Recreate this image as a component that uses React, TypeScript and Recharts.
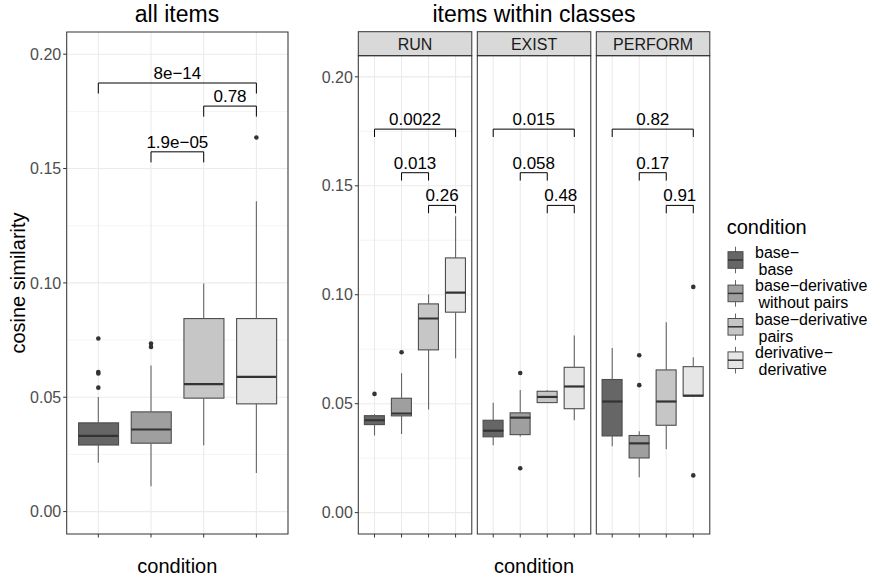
import {
  ComposedChart,
  Bar,
  Scatter,
  ErrorBar,
  XAxis,
  YAxis,
  CartesianGrid,
  ReferenceLine,
} from 'recharts';

const FONT = '"Liberation Sans", Arial, Helvetica, sans-serif';

const conditions = ['base−base', 'base−derivative without pairs', 'base−derivative pairs', 'derivative−derivative'];
const legendLines = [
  ['base−', 'base'],
  ['base−derivative', 'without pairs'],
  ['base−derivative', 'pairs'],
  ['derivative−', 'derivative'],
];
const fills = ['#666666', '#9F9F9F', '#C6C6C6', '#E6E6E6'];

const yTicks = [0, 0.05, 0.1, 0.15, 0.2];
const yMinor = [0.025, 0.075, 0.125, 0.175];

// all items
const allLo = [0.0213, 0.0111, 0.029, 0.0169];
const allQ1 = [0.0291, 0.0299, 0.0496, 0.0471];
const allMed = [0.0331, 0.0359, 0.0557, 0.0589];
const allQ3 = [0.0388, 0.0436, 0.0844, 0.0844];
const allHi = [0.0501, 0.0639, 0.0997, 0.1357];
const allOut = [[0.0757, 0.061, 0.0604, 0.0542], [0.0735, 0.072], [], [0.1636]];

// RUN
const runLo = [0.0354, 0.0361, 0.0473, 0.0708];
const runQ1 = [0.0404, 0.0444, 0.0747, 0.092];
const runMed = [0.0424, 0.0455, 0.0891, 0.101];
const runQ3 = [0.0445, 0.0525, 0.0958, 0.1169];
const runHi = [0.0452, 0.064, 0.1001, 0.136];
const runOut = [[0.0545], [0.0736], [], []];

// EXIST
const exLo = [0.0309, 0.035, 0.0503, 0.0424];
const exQ1 = [0.0348, 0.0358, 0.0505, 0.0477];
const exMed = [0.0376, 0.0436, 0.0531, 0.0579];
const exQ3 = [0.0424, 0.0458, 0.0557, 0.0667];
const exHi = [0.0504, 0.0563, 0.0562, 0.0813];
const exOut = [[], [0.0641, 0.0204], [], []];

// PERFORM
const pfLo = [0.0305, 0.0162, 0.0291, 0.0535];
const pfQ1 = [0.0352, 0.0251, 0.0401, 0.0535];
const pfMed = [0.051, 0.0318, 0.051, 0.0537];
const pfQ3 = [0.0611, 0.0354, 0.0655, 0.067];
const pfHi = [0.0756, 0.0373, 0.0874, 0.0713];
const pfOut = [[], [0.0722, 0.0585], [], [0.1036, 0.0171]];

// significance brackets: [from, to] condition index
const bracketPairs = [[0, 3], [1, 2], [2, 3]];
const allBracketY = [0.1874, 0.1573, 0.1773];
const allLabels = ['8e−14', '1.9e−05', '0.78'];
const classBracketY = [0.176, 0.156, 0.141];
const runLabels = ['0.0022', '0.013', '0.26'];
const exLabels = ['0.015', '0.058', '0.48'];
const pfLabels = ['0.82', '0.17', '0.91'];

const H = 578;
const PLOT_BOTTOM = 534;

interface PanelProps {
  left: number;
  plotTop: number;
  plotW: number;
  axisW: number;
  rightM: number;
  showY: boolean;
  lo: number[];
  q1: number[];
  med: number[];
  q3: number[];
  hi: number[];
  out: number[][];
  bracketY: number[];
  labels: string[];
  tip: number;
}

function BoxPanel(p: PanelProps) {
  const rows = conditions.map((c, i) => ({
    cond: c,
    fill: fills[i],
    box: [p.q1[i], p.q3[i]],
    med: p.med[i],
    q1: p.q1[i],
    q3: p.q3[i],
    upper: [0, p.hi[i] - p.q3[i]],
    lower: [p.q1[i] - p.lo[i], 0],
    o0: p.out[i][0] ?? null,
    o1: p.out[i][1] ?? null,
    o2: p.out[i][2] ?? null,
    o3: p.out[i][3] ?? null,
  }));
  const boxW = (p.plotW / 4.2) * 0.75;
  const pad = p.plotW / 42;
  const dot = (key: string) => (s: any) =>
    s.payload == null || s.payload[key] == null ? <g /> : <circle cx={s.cx} cy={s.cy} r={2.3} fill="#333333" />;

  return (
    <div style={{ position: 'absolute', left: p.left, top: 0 }}>
      <ComposedChart
        width={p.axisW + p.plotW + p.rightM}
        height={H}
        data={rows}
        barCategoryGap="12.5%"
        margin={{ top: p.plotTop, right: p.rightM, bottom: 0, left: 0 }}
      >
        <CartesianGrid vertical={false} horizontalValues={yMinor} stroke="#F4F4F4" strokeWidth={1} />
        <CartesianGrid horizontalValues={yTicks} stroke="#EBEBEB" strokeWidth={1.1} />
        <XAxis
          dataKey="cond"
          type="category"
          allowDuplicatedCategory={false}
          interval={0}
          padding={{ left: pad, right: pad }}
          height={H - PLOT_BOTTOM}
          tick={() => <g />}
          axisLine={false}
          tickLine={{ stroke: '#333333' }}
          tickSize={3.5}
        />
        {p.showY ? (
          <YAxis
            type="number"
            domain={[-0.0098, 0.2097]}
            allowDataOverflow
            ticks={yTicks}
            interval={0}
            tickFormatter={(v: number) => v.toFixed(2)}
            width={p.axisW}
            axisLine={false}
            tickLine={{ stroke: '#333333' }}
            tickSize={3.5}
            tickMargin={2}
            tick={{ fill: '#4D4D4D', fontSize: 16, fontFamily: FONT }}
          />
        ) : (
          <YAxis
            type="number"
            domain={[-0.0098, 0.2097]}
            allowDataOverflow
            ticks={yTicks}
            interval={0}
            width={0}
            axisLine={false}
            tickLine={false}
            tick={false}
          />
        )}
        <Scatter dataKey="q3" shape={() => <g />} isAnimationActive={false}>
          <ErrorBar dataKey="upper" direction="y" width={0} stroke="#666666" strokeWidth={1.1} isAnimationActive={false} />
        </Scatter>
        <Scatter dataKey="q1" shape={() => <g />} isAnimationActive={false}>
          <ErrorBar dataKey="lower" direction="y" width={0} stroke="#666666" strokeWidth={1.1} isAnimationActive={false} />
        </Scatter>
        <Bar
          dataKey="box"
          isAnimationActive={false}
          shape={(s: any) => (
            <rect
              x={s.x}
              y={Math.min(s.y, s.y + s.height)}
              width={s.width}
              height={Math.abs(s.height)}
              fill={s.payload.fill}
              stroke="#4D4D4D"
              strokeWidth={1.1}
            />
          )}
        />
        <Scatter
          dataKey="med"
          isAnimationActive={false}
          shape={(s: any) => (
            <line x1={s.cx - boxW / 2} x2={s.cx + boxW / 2} y1={s.cy} y2={s.cy} stroke="#333333" strokeWidth={2.2} />
          )}
        />
        {['o0', 'o1', 'o2', 'o3'].map(k => (
          <Scatter key={k} dataKey={k} shape={dot(k)} isAnimationActive={false} />
        ))}
        {bracketPairs.map(([a, b], i) => {
          const y = p.bracketY[i];
          return [
            <ReferenceLine
              key={`h${i}`}
              segment={[{ x: conditions[a], y }, { x: conditions[b], y }]}
              stroke="#000000"
              strokeWidth={1}
              ifOverflow="visible"
              label={{ value: p.labels[i], position: 'top', offset: 4, fill: '#000000', fontSize: 17, fontFamily: FONT }}
            />,
            <ReferenceLine
              key={`a${i}`}
              segment={[{ x: conditions[a], y }, { x: conditions[a], y: y - p.tip }]}
              stroke="#000000"
              strokeWidth={1}
              ifOverflow="visible"
            />,
            <ReferenceLine
              key={`b${i}`}
              segment={[{ x: conditions[b], y }, { x: conditions[b], y: y - p.tip }]}
              stroke="#000000"
              strokeWidth={1}
              ifOverflow="visible"
            />,
          ];
        })}
      </ComposedChart>
    </div>
  );
}

const facets = [
  { name: 'RUN', left: 358.3 },
  { name: 'EXIST', left: 477.3 },
  { name: 'PERFORM', left: 596.3 },
];
const FACET_W = 113.5;

export default function App() {
  return (
    <div style={{ position: 'absolute', left: 0, top: 0, width: 870, height: H, background: '#ffffff', fontFamily: FONT }}>
      <BoxPanel
        left={0} plotTop={32} plotW={221.3} axisW={66.7} rightM={12} showY
        lo={allLo} q1={allQ1} med={allMed} q3={allQ3} hi={allHi} out={allOut}
        bracketY={allBracketY} labels={allLabels} tip={0.0046}
      />
      <BoxPanel
        left={300} plotTop={55.7} plotW={FACET_W} axisW={58.3} rightM={0} showY
        lo={runLo} q1={runQ1} med={runMed} q3={runQ3} hi={runHi} out={runOut}
        bracketY={classBracketY} labels={runLabels} tip={0.0036}
      />
      <BoxPanel
        left={477.3} plotTop={55.7} plotW={FACET_W} axisW={0} rightM={0} showY={false}
        lo={exLo} q1={exQ1} med={exMed} q3={exQ3} hi={exHi} out={exOut}
        bracketY={classBracketY} labels={exLabels} tip={0.0036}
      />
      <BoxPanel
        left={596.3} plotTop={55.7} plotW={FACET_W} axisW={0} rightM={0} showY={false}
        lo={pfLo} q1={pfQ1} med={pfMed} q3={pfQ3} hi={pfHi} out={pfOut}
        bracketY={classBracketY} labels={pfLabels} tip={0.0036}
      />
      <svg
        width={870}
        height={H}
        style={{ position: 'absolute', left: 0, top: 0, pointerEvents: 'none', fontFamily: FONT }}
      >
        <text x={177} y={21.5} textAnchor="middle" fontSize={23} fill="#000">all items</text>
        <text x={534} y={21.5} textAnchor="middle" fontSize={23} fill="#000">items within classes</text>
        <text x={177.3} y={573} textAnchor="middle" fontSize={20} fill="#000">condition</text>
        <text x={534} y={573} textAnchor="middle" fontSize={20} fill="#000">condition</text>
        <text x={25} y={283} textAnchor="middle" fontSize={20} fill="#000" transform="rotate(-90, 25, 283)">
          cosine similarity
        </text>
        <rect x={66.7} y={32} width={221.3} height={502} fill="none" stroke="#333333" strokeWidth={1} />
        {facets.map(f => (
          <g key={f.name}>
            <rect x={f.left} y={31.7} width={FACET_W} height={24} fill="#D9D9D9" stroke="#333333" strokeWidth={1} />
            <text x={f.left + FACET_W / 2} y={49.5} textAnchor="middle" fontSize={16} fill="#1A1A1A">{f.name}</text>
            <rect x={f.left} y={55.7} width={FACET_W} height={PLOT_BOTTOM - 55.7} fill="none" stroke="#333333" strokeWidth={1} />
          </g>
        ))}
        <text x={726.7} y={233.5} fontSize={20} fill="#000">condition</text>
        {conditions.map((c, i) => {
          const cy = 260 + i * 33.4;
          return (
            <g key={c}>
              <line x1={735.5} x2={735.5} y1={cy - 13.3} y2={cy + 13.3} stroke="#666666" strokeWidth={1} />
              <rect x={728} y={cy - 8.3} width={15} height={16.6} fill={fills[i]} stroke="#4D4D4D" strokeWidth={1} />
              <line x1={728} x2={743} y1={cy} y2={cy} stroke="#333333" strokeWidth={1.5} />
              <text x={755} y={cy - 2} fontSize={16} fill="#000">{legendLines[i][0]}</text>
              <text x={758.5} y={cy + 15} fontSize={16} fill="#000">{legendLines[i][1]}</text>
            </g>
          );
        })}
      </svg>
    </div>
  );
}
